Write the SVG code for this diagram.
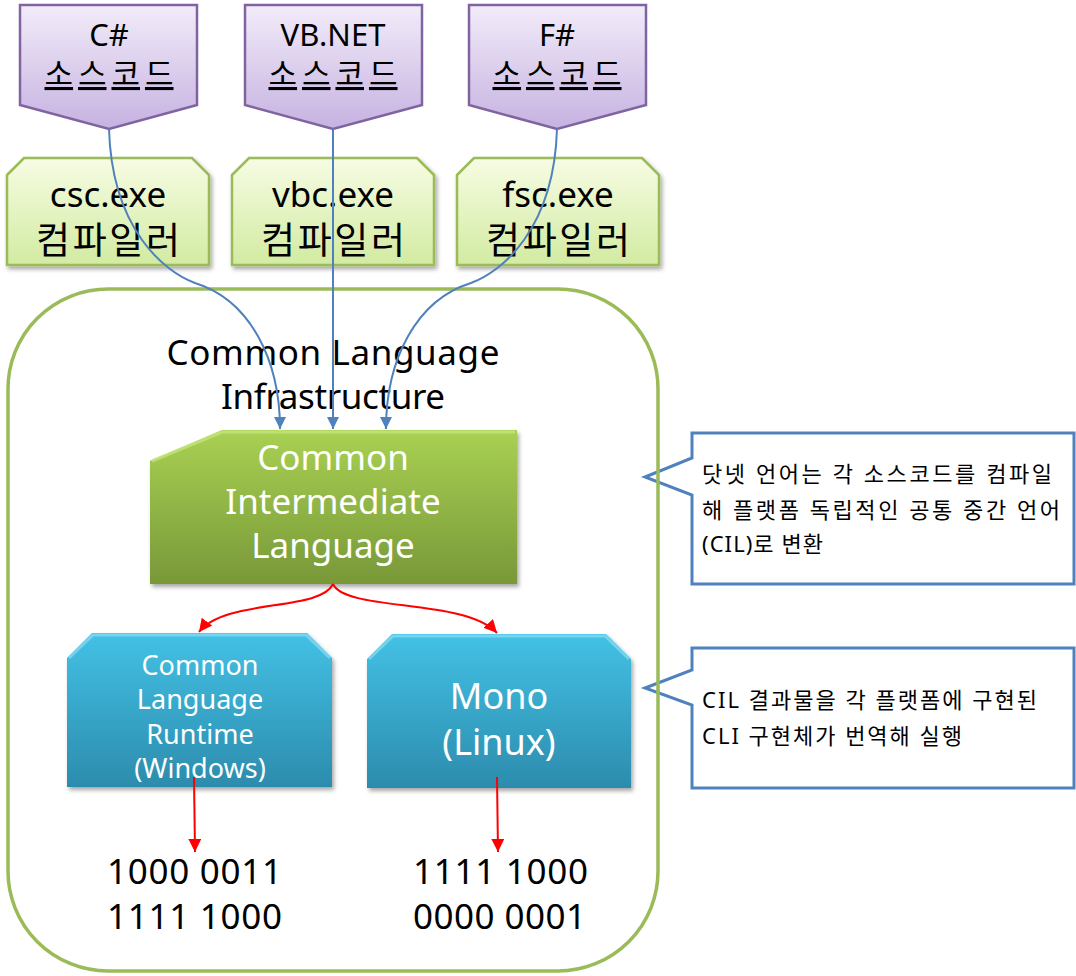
<svg xmlns="http://www.w3.org/2000/svg" width="1076" height="976" viewBox="0 0 1076 976">
  <style>
    text { font-family: "Noto Sans", "Noto Sans CJK KR", sans-serif; }
    .src { fill: url(#gPurple); stroke: #8064a2; stroke-width: 2.5; }
    .cmp { fill: url(#gLime); stroke: #9bbb59; stroke-width: 2.5; filter: url(#shadow); }
    .cil { fill: url(#gGreen); filter: url(#shadow); }
    .rt { fill: url(#gBlue); filter: url(#shadow); }
    .bevel { fill: none; stroke: #7fdaf3; stroke-width: 3; opacity: 0.8; }
    .bevelG { fill: none; stroke: #c4e57a; stroke-width: 3; opacity: 0.8; }
    .call { fill: #ffffff; stroke: #4f81bd; stroke-width: 3; }
    .blk { fill: #000000; text-anchor: middle; }
    .wht { fill: #ffffff; text-anchor: middle; }
    .note { fill: #000000; font-size: 22px; }
    .bin { fill: #000000; font-size: 35px; }
    .blue { fill: none; stroke: #4f81bd; stroke-width: 2; }
    .red { fill: none; stroke: #ff0000; stroke-width: 2; }
  </style>
  <defs>
    <linearGradient id="gPurple" x1="0" y1="0" x2="0" y2="1">
      <stop offset="0" stop-color="#f2ecf9"/>
      <stop offset="1" stop-color="#c6b2e1"/>
    </linearGradient>
    <linearGradient id="gLime" x1="0" y1="0" x2="0" y2="1">
      <stop offset="0" stop-color="#f7fce3"/>
      <stop offset="1" stop-color="#d2eba2"/>
    </linearGradient>
    <linearGradient id="gGreen" x1="0" y1="0" x2="0" y2="1">
      <stop offset="0" stop-color="#a9d153"/>
      <stop offset="1" stop-color="#789838"/>
    </linearGradient>
    <linearGradient id="gBlue" x1="0" y1="0" x2="0" y2="1">
      <stop offset="0" stop-color="#43c1e5"/>
      <stop offset="1" stop-color="#2c8cad"/>
    </linearGradient>
    <filter id="shadow" x="-10%" y="-10%" width="125%" height="130%">
      <feDropShadow dx="2" dy="3" stdDeviation="2" flood-color="#000000" flood-opacity="0.35"/>
    </filter>
    <marker id="aBlue" markerUnits="userSpaceOnUse" markerWidth="12" markerHeight="14" refX="12" refY="6" orient="auto" viewBox="0 0 12 12">
      <path d="M0,0 L12,6 L0,12 Z" fill="#4f81bd"/>
    </marker>
    <marker id="aRed" markerUnits="userSpaceOnUse" markerWidth="13" markerHeight="13" refX="12" refY="6" orient="auto" viewBox="0 0 12 12">
      <path d="M0,0 L12,6 L0,12 Z" fill="#ff0000"/>
    </marker>
  </defs>

  <rect x="0" y="0" width="1076" height="976" fill="#ffffff"/>

  <g id="callout-cil">
    <path class="call" d="M692,433 L1074,433 L1074,584 L692,584 L692,495 L645,477 L692,458 Z"/>
    <text class="note" x="702" y="482" textLength="350" lengthAdjust="spacing">닷넷 언어는 각 소스코드를 컴파일</text>
    <text class="note" x="702" y="518" textLength="358" lengthAdjust="spacing">해 플랫폼 독립적인 공통 중간 언어</text>
    <text class="note" x="702" y="552" textLength="121" lengthAdjust="spacing">(CIL)로 변환</text>
  </g>
  <g id="callout-cli">
    <path class="call" d="M692,648 L1074,648 L1074,788 L692,788 L692,705 L645,688 L692,670 Z"/>
    <text class="note" x="702" y="708" textLength="335" lengthAdjust="spacing">CIL 결과물을 각 플랫폼에 구현된</text>
    <text class="note" x="702" y="744" textLength="260" lengthAdjust="spacing">CLI 구현체가 번역해 실행</text>
  </g>

  <g id="cli-container">
    <rect x="8" y="289" width="650" height="682" rx="100" ry="100" fill="none" stroke="#9bbb59" stroke-width="3.5"/>
    <text class="blk" font-size="35" x="333" y="365" textLength="333">Common Language</text>
    <text class="blk" font-size="35" x="333" y="409" textLength="224">Infrastructure</text>
  </g>

  <g id="src-cs">
    <path class="src" d="M20,5 L197,5 L197,105 L109,129 L20,105 Z"/>
    <text class="blk" font-size="31" x="109" y="46">C#</text>
    <text class="blk" font-size="31" x="109" y="85" textLength="129" lengthAdjust="spacing" text-decoration="underline">소스코드</text>
  </g>
  <g id="src-vb">
    <path class="src" d="M245,5 L422,5 L422,105 L333,129 L245,105 Z"/>
    <text class="blk" font-size="31" x="333" y="46">VB.NET</text>
    <text class="blk" font-size="31" x="333" y="85" textLength="129" lengthAdjust="spacing" text-decoration="underline">소스코드</text>
  </g>
  <g id="src-fs">
    <path class="src" d="M469,5 L646,5 L646,105 L557,129 L469,105 Z"/>
    <text class="blk" font-size="31" x="557" y="46">F#</text>
    <text class="blk" font-size="31" x="557" y="85" textLength="129" lengthAdjust="spacing" text-decoration="underline">소스코드</text>
  </g>

  <g id="cmp-csc">
    <path class="cmp" d="M7,175 L24,158 L192,158 L209,175 L209,265 L7,265 Z"/>
    <text class="blk" font-size="35" x="108" y="207">csc.exe</text>
    <text class="blk" font-size="37" x="108" y="254" textLength="144" lengthAdjust="spacing">컴파일러</text>
  </g>
  <g id="cmp-vbc">
    <path class="cmp" d="M232,175 L249,158 L417,158 L434,175 L434,265 L232,265 Z"/>
    <text class="blk" font-size="35" x="333" y="207">vbc.exe</text>
    <text class="blk" font-size="37" x="333" y="254" textLength="144" lengthAdjust="spacing">컴파일러</text>
  </g>
  <g id="cmp-fsc">
    <path class="cmp" d="M457,175 L474,158 L642,158 L659,175 L659,265 L457,265 Z"/>
    <text class="blk" font-size="35" x="558" y="207">fsc.exe</text>
    <text class="blk" font-size="37" x="558" y="254" textLength="144" lengthAdjust="spacing">컴파일러</text>
  </g>

  <g id="cil">
    <path class="cil" d="M150,461 L222,430 L517,430 L517,584 L150,584 Z"/>
    <path class="bevelG" d="M152,461 L222,432 L515,432"/>
    <text class="wht" font-size="35" x="333" y="470">Common</text>
    <text class="wht" font-size="35" x="333" y="514">Intermediate</text>
    <text class="wht" font-size="35" x="333" y="558">Language</text>
  </g>

  <g id="clr">
    <path class="rt" d="M67,658 L92,633 L307,633 L332,658 L332,787 L67,787 Z"/>
    <path class="bevel" d="M69,658 L93,635 L306,635 L330,658"/>
    <text class="wht" font-size="27" x="200" y="675">Common</text>
    <text class="wht" font-size="27" x="200" y="709">Language</text>
    <text class="wht" font-size="27" x="200" y="744">Runtime</text>
    <text class="wht" font-size="27" x="200" y="778">(Windows)</text>
  </g>
  <g id="mono">
    <path class="rt" d="M367,659 L392,634 L606,634 L631,659 L631,788 L367,788 Z"/>
    <path class="bevel" d="M369,659 L393,636 L605,636 L629,659"/>
    <text class="wht" font-size="36" x="499" y="709">Mono</text>
    <text class="wht" font-size="36" x="499" y="755">(Linux)</text>
  </g>

  <g id="out-win">
    <text class="bin" x="107" y="884" textLength="175">1000 0011</text>
    <text class="bin" x="107" y="929" textLength="175">1111 1000</text>
  </g>
  <g id="out-linux">
    <text class="bin" x="413" y="884" textLength="175">1111 1000</text>
    <text class="bin" x="413" y="929" textLength="173">0000 0001</text>
  </g>

  <g id="connectors">
    <path class="blue" marker-end="url(#aBlue)" d="M109,129 C112,230 165,272 195,283 C250,300 280,360 280,429"/>
    <path class="blue" marker-end="url(#aBlue)" d="M333,129 L333,429"/>
    <path class="blue" marker-end="url(#aBlue)" d="M557,129 C554,230 501,272 471,283 C416,300 386,360 386,429"/>
    <path class="red" marker-end="url(#aRed)" d="M333,584 C320,612 225,598 199,632"/>
    <path class="red" marker-end="url(#aRed)" d="M333,584 C346,612 465,598 497,633"/>
    <path class="red" marker-end="url(#aRed)" d="M194,777 L195,852"/>
    <path class="red" marker-end="url(#aRed)" d="M497,777 L498,852"/>
  </g>
</svg>
